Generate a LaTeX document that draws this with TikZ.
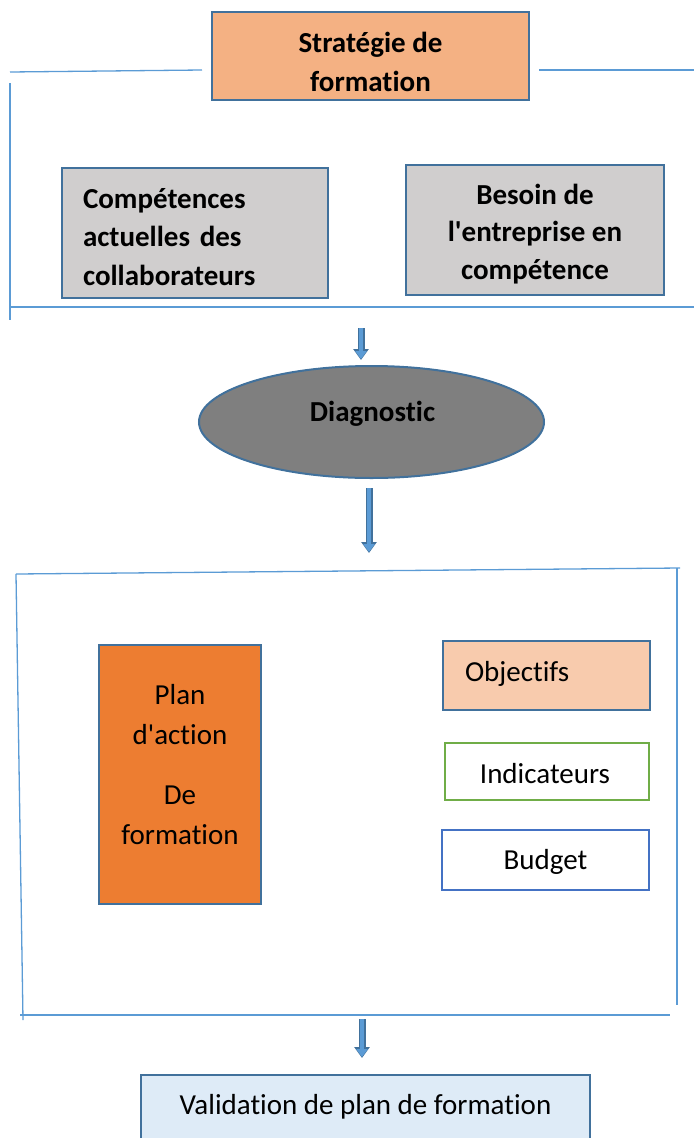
\documentclass[tikz,border=0pt]{standalone}
\usepackage{fontspec}
\setmainfont{Carlito}[Ligatures=NoCommon]
\usepackage{tikz}
\usetikzlibrary{shapes.geometric,arrows.meta}

\definecolor{edgeblue}{HTML}{41719C}
\definecolor{lineblue}{HTML}{5B9BD5}
\definecolor{arrowblue}{HTML}{5B9BD5}
\definecolor{peach}{HTML}{F4B183}
\definecolor{lightpeach}{HTML}{F8CBAD}
\definecolor{lightgray}{HTML}{D0CECE}
\definecolor{darkgray}{HTML}{7F7F7F}
\definecolor{orange}{HTML}{ED7D31}
\definecolor{paleblue}{HTML}{DEEBF7}
\definecolor{green}{HTML}{70AD47}
\definecolor{midblue}{HTML}{4472C4}

\begin{document}
\begin{tikzpicture}[x=1pt,y=-1pt]
          \tikzstyle{box} = [rectangle, draw=edgeblue, line width=2pt, inner sep=0pt]
          \tikzstyle{txt} = [font=\fontsize{29}{39}\selectfont, align=center, inner sep=0pt]
          \tikzstyle{bold} = [txt, font=\fontsize{29}{38.5}\selectfont\bfseries]
          \tikzstyle{frame} = [draw=lineblue, line width=1.3pt]
          \tikzstyle{flow} = [draw=arrowblue, line width=4pt, -{Triangle[width=11pt,length=8pt]},
                              preaction={draw=edgeblue, line width=7pt, -{Triangle[width=15pt,length=11pt]}, shorten >=-1pt}]
        \useasboundingbox (0,0) rectangle (694,1138);
        % upper block
        \node[box, fill=peach, minimum width=317, minimum height=88,
              label={[bold, yshift=-6pt]center:{Stratégie de\\formation}}] (1) at (370.5,56) {};
        \node[box, fill=lightgray, minimum width=266, minimum height=130,
              label={[bold, align=left, text width=224, yshift=-4pt]center:{Compétences\\actuelles des\\collaborateurs}}] (2) at (195,233) {};
        \node[box, fill=lightgray, minimum width=258, minimum height=130,
              label={[bold, font=\fontsize{29}{37.5}\selectfont\bfseries, yshift=-4pt]center:{Besoin de\\l\textquotesingle entreprise en\\compétence}}] (3) at (535,230) {};
        \draw[frame] (10,72) -- (202,70);
        \draw[frame] (539,70) -- (694,70);
        \draw[frame] (10,83) -- (10,320);
        \draw[frame] (10,307) -- (694,307);
        % diagnostic
        \node[ellipse, draw=edgeblue, line width=2pt, fill=darkgray, minimum width=345, minimum height=112,
              label={[bold, xshift=1pt, yshift=8pt]center:Diagnostic}] (4) at (371.5,422) {};
        % lower block
        \draw[frame] (16,574) -- (680,568);
        \draw[frame] (16,574) -- (23,1020);
        \draw[frame] (677,568) -- (677,1005);
        \draw[frame] (20,1015) -- (670,1015);
        \node[box, fill=orange, minimum width=162, minimum height=259,
              label={[txt, font=\fontsize{29}{40}\selectfont, yshift=10pt]center:{Plan\\d\textquotesingle action\\[20pt]De\\formation}}] (5) at (180,774.5) {};
        \node[box, fill=lightpeach, minimum width=207, minimum height=69,
              label={[txt, align=left, text width=163, yshift=2pt]center:Objectifs}] (6) at (546.5,675.5) {};
        \node[box, draw=green, fill=white, minimum width=204, minimum height=57,
              label={[txt, xshift=-2pt, yshift=-2pt]center:Indicateurs}] (7) at (547,771.5) {};
        \node[box, draw=midblue, fill=white, minimum width=207, minimum height=60,
              label={[txt, yshift=-2pt]center:Budget}] (8) at (545.5,860) {};
        % validation
        \node[box, fill=paleblue, minimum width=449, minimum height=64,
              label={[txt]center:Validation de plan de formation}] (9) at (365.5,1107) {};
        \coordinate (a) at (361,328);
        \coordinate (b) at (369,488);
        \coordinate (c) at (362,1019);
        \draw[flow] (a) -- (361,359);
        \draw[flow] (b) -- (369,552);
        \draw[flow] (c) -- (362,1057);
      \end{tikzpicture}
\end{document}
